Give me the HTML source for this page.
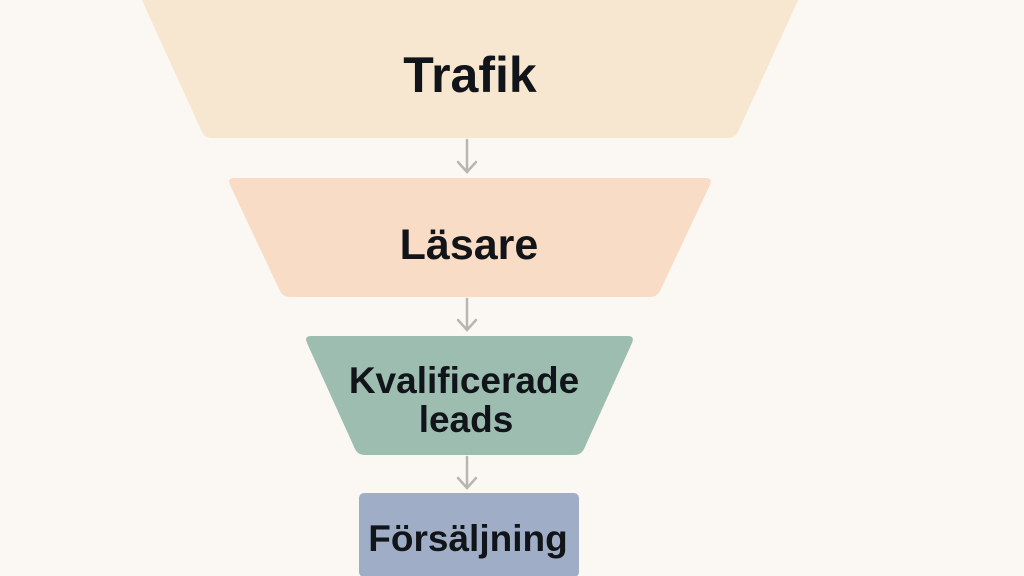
<!DOCTYPE html>
<html><head><meta charset="utf-8"><style>
html,body{margin:0;padding:0;background:#fbf8f3;}
svg{display:block;}
text{font-family:"Liberation Sans",sans-serif;font-weight:bold;fill:#111418;text-anchor:middle;}
</style></head><body>
<svg width="1024" height="576" viewBox="0 0 1024 576">
<rect width="1024" height="576" fill="#fbf8f3"/>
<path d="M140,-4 L800,-4 L738,132 Q735,138 728,138 L212,138 Q205,138 202,132 Z" fill="#f8e7d0"/>
<path d="M234,178 L706,178 Q713,178 710,185 L660,291 Q657,297 650,297 L290,297 Q283,297 280,291 L230,185 Q227,178 234,178 Z" fill="#f8dcc5"/>
<path d="M311,336 L628,336 Q635,336 632,343 L584,449 Q581,455 574,455 L365,455 Q358,455 355,449 L307,343 Q304,336 311,336 Z" fill="#9dbdb1"/>
<rect x="359" y="493" width="220" height="84" rx="5" fill="#9fadc6"/>
<g stroke="#b9b6b2" stroke-width="2.5" fill="none" stroke-linecap="round">
<path d="M467,140 V172 M458,162 L467,172 L476,162"/>
<path d="M467,299 V330 M458,320 L467,330 L476,320"/>
<path d="M467,457 V488 M458,478 L467,488 L476,478"/>
</g>
<text x="470" y="92" font-size="50">Trafik</text>
<text x="469" y="259" font-size="43">Läsare</text>
<text x="464" y="393" font-size="37">Kvalificerade</text>
<text x="466" y="432" font-size="37">leads</text>
<text x="468" y="551" font-size="37">Försäljning</text>
</svg>
</body></html>
